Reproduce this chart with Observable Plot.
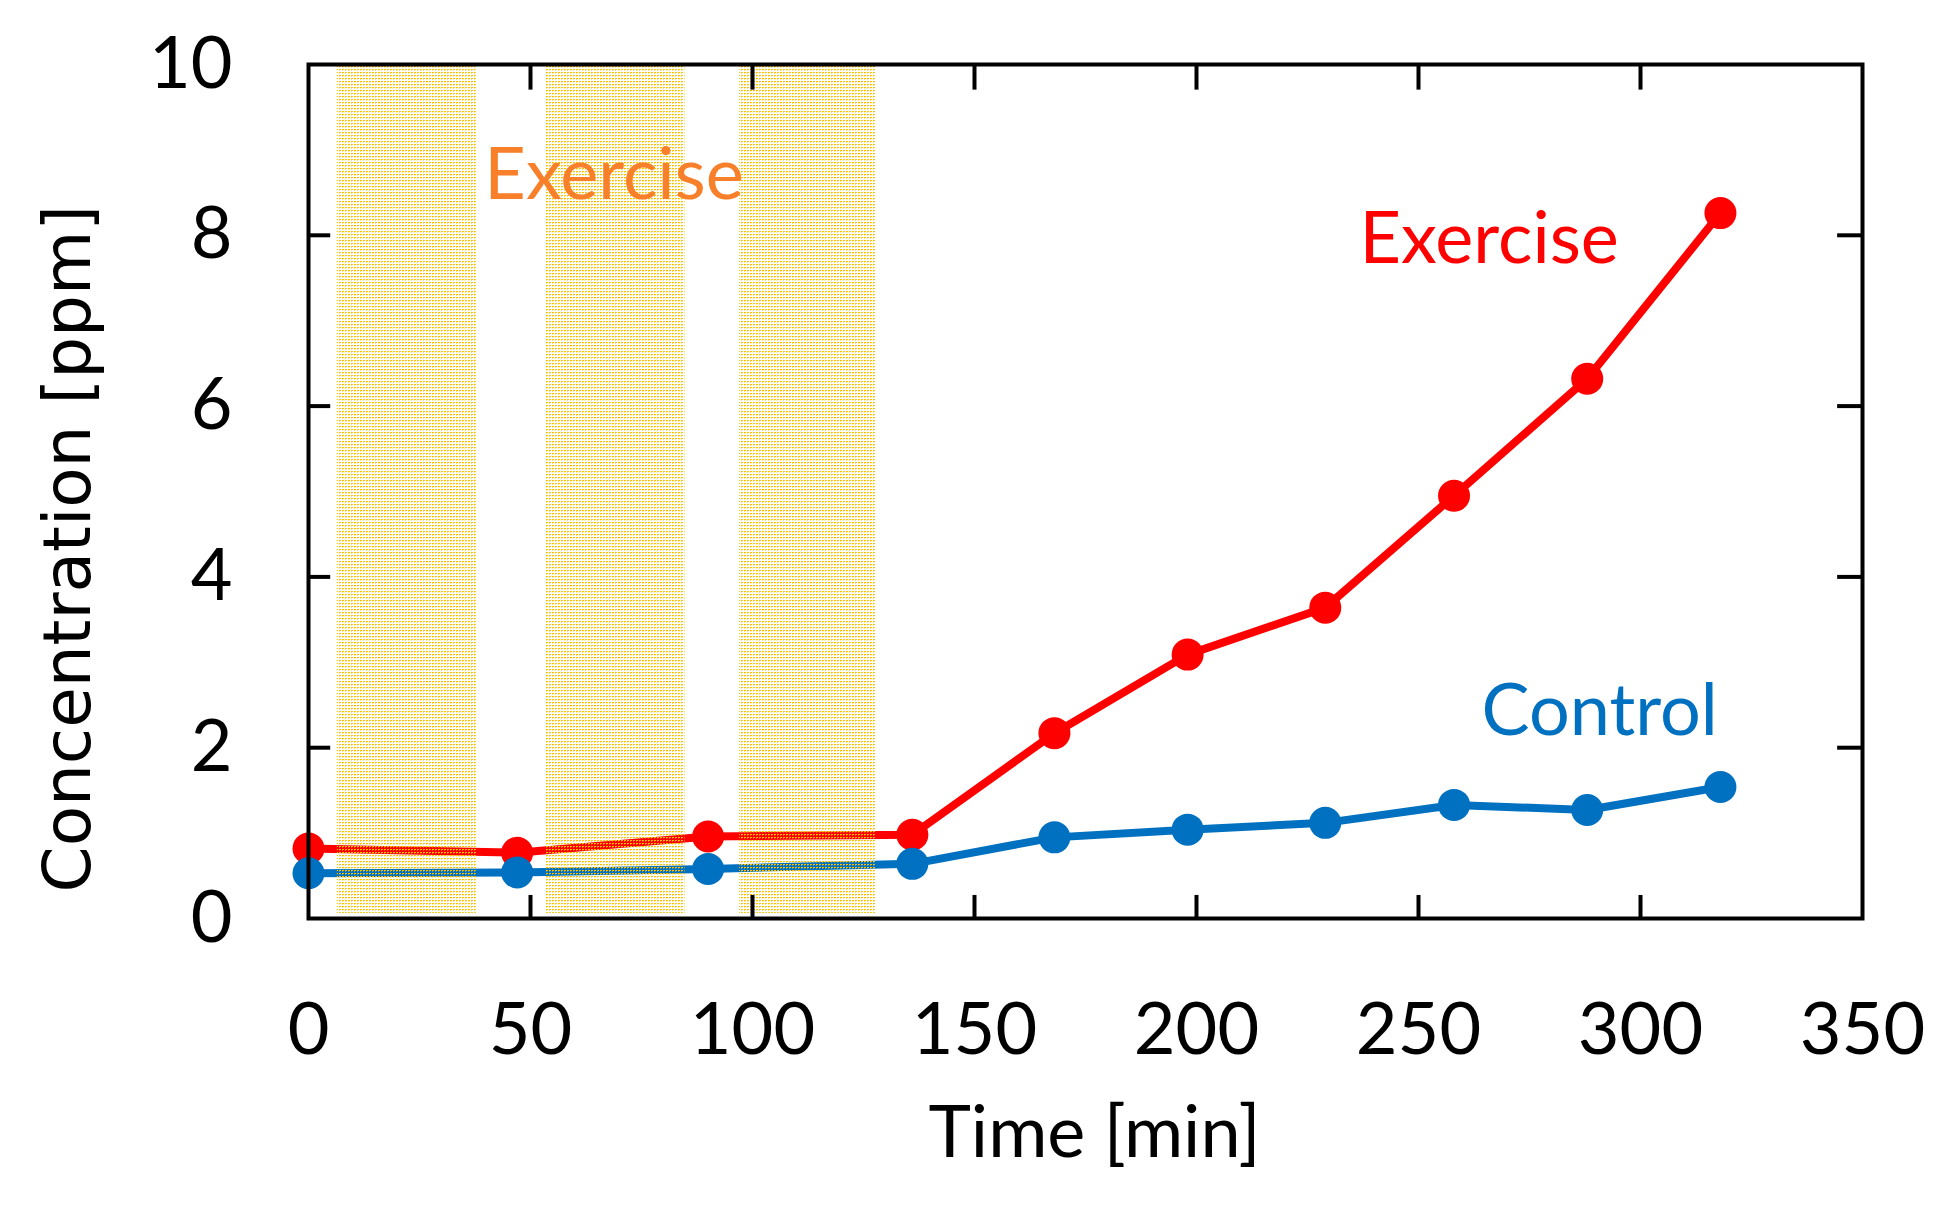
<!DOCTYPE html>
<html>
<head>
<meta charset="utf-8">
<script src="https://cdn.jsdelivr.net/npm/d3@7"></script>
<script src="https://cdn.jsdelivr.net/npm/@observablehq/plot@0.6"></script>
<style>
  html, body { margin: 0; padding: 0; background: #fff; }
</style>
</head>
<body>
<div id="chart"></div>
<script>
// ---- data ----
const times    = [0, 47, 90, 136, 168, 198, 229, 258, 288, 318];
const exercise = [0.82, 0.77, 0.96, 0.98, 2.17, 3.09, 3.64, 4.95, 6.32, 8.26];
const control  = [0.53, 0.54, 0.58, 0.64, 0.95, 1.04, 1.12, 1.33, 1.27, 1.54];
const bandStart = [6.5, 53.4, 97.1];
const bandEnd   = [37.8, 84.8, 127.9];
const xTicks = [0, 50, 100, 150, 200, 250, 300, 350];
const yTicks = [0, 2, 4, 6, 8, 10];
const xLabel = "Time [min]";
const yLabel = "Concentration [ppm]";
const bandLabel = "Exercise";
const seriesLabels = ["Exercise", "Control"];

// ---- tables built from the arrays ----
const exRows = times.map((t, i) => ({t, v: exercise[i]}));
const ctRows = times.map((t, i) => ({t, v: control[i]}));
const bands = bandStart.map((s, i) => ({s, e: bandEnd[i]}));
const innerX = xTicks.filter(d => d > xTicks[0] && d < xTicks[xTicks.length - 1]);
const innerY = yTicks.filter(d => d > yTicks[0] && d < yTicks[yTicks.length - 1]);

const RED = "#FF0000", BLUE = "#0070C0", ORANGE = "#F9802A", DOT = "#ffc000";
const FONT = "Lato, 'Open Sans', sans-serif";

const chart = Plot.plot({
  width: 1945,
  height: 1211,
  marginLeft: 308,
  marginRight: 83,
  marginTop: 64,
  marginBottom: 293,
  style: {fontFamily: FONT, fontSize: "72px", color: "#000", background: "#fff"},
  x: {domain: [0, 350]},
  y: {domain: [0, 10]},
  marks: [
    // series lines
    Plot.line(exRows, {x: "t", y: "v", stroke: RED, strokeWidth: 8}),
    Plot.line(ctRows, {x: "t", y: "v", stroke: BLUE, strokeWidth: 8}),
    // exercise bands (dotted pattern drawn over the lines, as in the reference)
    Plot.rect(bands, {x1: "s", x2: "e", y1: 0.06, y2: 10, fill: DOT, fillOpacity: 0.34}),
    Plot.dot(exRows, {x: "t", y: "v", r: 16, fill: RED}),
    Plot.dot(ctRows, {x: "t", y: "v", r: 16, fill: BLUE}),
    // inward ticks
    Plot.ruleX(innerX, {y1: 0, y2: 0.27, stroke: "#000", strokeWidth: 4}),
    Plot.ruleX(innerX, {y1: 10, y2: 9.7, stroke: "#000", strokeWidth: 4}),
    Plot.ruleY(innerY, {x1: 0, x2: 5, stroke: "#000", strokeWidth: 4}),
    Plot.ruleY(innerY, {x1: 350, x2: 344.4, stroke: "#000", strokeWidth: 4}),
    Plot.frame({stroke: "#000", strokeWidth: 4}),
    // axes (labels only)
    Plot.axisX(xTicks, {tickSize: 0, tickPadding: 84, fontSize: 72, label: null, tickFormat: d3.format("d")}),
    Plot.axisY(yTicks, {tickSize: 0, tickPadding: 76, fontSize: 72, label: null, tickFormat: d3.format("d")}),
    // axis titles
    Plot.text([xLabel], {text: d => d, frameAnchor: "bottom", textAnchor: "middle", lineAnchor: "middle",
                         dx: 9, dy: 215, fontSize: 72, fill: "#000"}),
    Plot.text([yLabel], {text: d => d, x: -54, y: 4.33, rotate: -90, textAnchor: "middle", lineAnchor: "middle",
                         fontSize: 66, fontFamily: "DejaVu Sans, sans-serif", fill: "#000"}),
    // annotations
    Plot.text([bandLabel], {text: d => d, x: 39.6, y: 8.69, textAnchor: "start", fontSize: 72, fill: ORANGE}),
    Plot.text([seriesLabels[0]], {text: d => d, x: 236.7, y: 7.95, textAnchor: "start", fontSize: 72, fill: RED}),
    Plot.text([seriesLabels[1]], {text: d => d, x: 264.2, y: 2.42, textAnchor: "start", fontSize: 72, fill: BLUE})
  ]
});

// dotted fill pattern for the exercise bands
const svg = d3.select(chart);
const pat = svg.insert("defs", ":first-child")
  .append("pattern")
  .attr("id", "exDots")
  .attr("patternUnits", "userSpaceOnUse")
  .attr("width", 3).attr("height", 3);
pat.append("rect").attr("x", 0).attr("y", 0).attr("width", 2).attr("height", 1).attr("fill", DOT);
pat.append("rect").attr("x", 0).attr("y", 1).attr("width", 1).attr("height", 1).attr("fill", DOT).attr("fill-opacity", 0.5);
svg.selectAll("g").filter(function () {
  const f = (this.getAttribute("fill") || "").toLowerCase();
  return f === DOT && this.querySelector("rect");
}).each(function () {
  this.setAttribute("fill", "url(#exDots)");
  this.removeAttribute("fill-opacity");
  this.querySelectorAll("rect").forEach(r => { r.removeAttribute("fill-opacity"); r.removeAttribute("fill"); });
});

document.getElementById("chart").appendChild(chart);
</script>
</body>
</html>
